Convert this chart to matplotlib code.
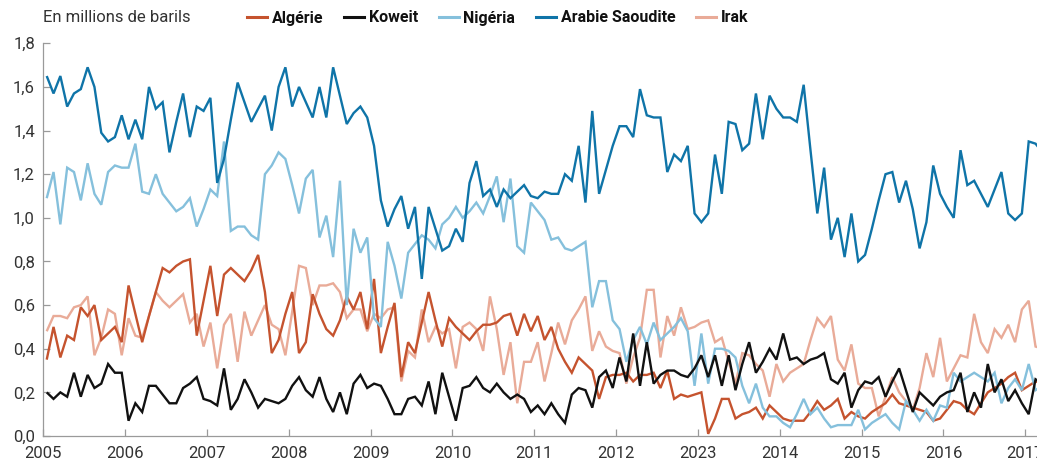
import matplotlib
matplotlib.use("Agg")
import matplotlib.pyplot as plt
import numpy as np
from matplotlib.ticker import FuncFormatter
from matplotlib.lines import Line2D

# ---------------- data (monthly, from Jan 2005) ----------------
series_names = ["Algérie", "Koweit", "Nigéria", "Arabie Saoudite", "Irak"]

arabie_saoudite = [
    1.65, 1.57, 1.65, 1.51, 1.57, 1.59, 1.69, 1.60, 1.39, 1.35, 1.37, 1.47,
    1.36, 1.45, 1.36, 1.60, 1.50, 1.53, 1.30, 1.44, 1.57, 1.37, 1.51, 1.49,
    1.55, 1.16, 1.27, 1.45, 1.62, 1.53, 1.44, 1.50, 1.56, 1.40, 1.60, 1.69,
    1.51, 1.60, 1.53, 1.46, 1.60, 1.46, 1.69, 1.56, 1.43, 1.48, 1.51, 1.46,
    1.33, 1.08, 0.96, 1.04, 1.10, 0.95, 1.05, 0.72, 1.05, 0.95, 0.85, 0.87,
    0.95, 0.89, 1.16, 1.26, 1.10, 1.13, 1.05, 1.13, 1.09, 1.12, 1.15, 1.10,
    1.09, 1.12, 1.11, 1.11, 1.20, 1.17, 1.33, 1.07, 1.49, 1.11, 1.22, 1.33,
    1.42, 1.42, 1.37, 1.59, 1.47, 1.46, 1.46, 1.21, 1.29, 1.26, 1.33, 1.02,
    0.98, 1.02, 1.29, 1.11, 1.44, 1.43, 1.31, 1.34, 1.57, 1.36, 1.56, 1.50,
    1.46, 1.46, 1.44, 1.61, 1.31, 1.02, 1.23, 0.90, 1.00, 0.82, 1.02, 0.80,
    0.83, 0.95, 1.08, 1.20, 1.21, 1.07, 1.17, 1.04, 0.86, 0.98, 1.24, 1.11,
    1.05, 1.00, 1.31, 1.15, 1.17, 1.11, 1.05, 1.13, 1.21, 1.02, 0.99, 1.02,
    1.35, 1.34, 1.30,
]

nigeria = [
    1.09, 1.21, 0.97, 1.23, 1.21, 1.08, 1.25, 1.11, 1.06, 1.21, 1.24, 1.23,
    1.23, 1.34, 1.12, 1.11, 1.20, 1.11, 1.07, 1.03, 1.05, 1.09, 0.96, 1.04,
    1.13, 1.10, 1.35, 0.94, 0.96, 0.96, 0.92, 0.90, 1.20, 1.24, 1.30, 1.27,
    1.15, 1.02, 1.18, 1.22, 0.91, 1.01, 0.82, 1.17, 0.60, 0.95, 0.84, 0.91,
    0.54, 0.50, 0.89, 0.78, 0.63, 0.84, 0.88, 0.92, 0.90, 0.86, 0.97, 1.00,
    1.05, 1.00, 1.03, 1.07, 1.02, 1.10, 1.19, 0.98, 1.18, 0.87, 0.84, 1.07,
    1.03, 0.99, 0.90, 0.91, 0.86, 0.85, 0.87, 0.89, 0.59, 0.71, 0.71, 0.53,
    0.49, 0.34, 0.44, 0.50, 0.42, 0.52, 0.44, 0.47, 0.50, 0.54, 0.48, 0.23,
    0.47, 0.24, 0.40, 0.40, 0.39, 0.36, 0.23, 0.15, 0.24, 0.13, 0.09, 0.09,
    0.06, 0.04, 0.10, 0.17, 0.10, 0.13, 0.08, 0.04, 0.05, 0.05, 0.05, 0.12,
    0.03, 0.06, 0.08, 0.10, 0.06, 0.03, 0.16, 0.12, 0.07, 0.12, 0.07, 0.14,
    0.13, 0.29, 0.25, 0.27, 0.29, 0.27, 0.25, 0.29, 0.15, 0.22, 0.26, 0.21,
    0.33, 0.21, 0.23,
]

algerie = [
    0.35, 0.50, 0.36, 0.46, 0.44, 0.59, 0.55, 0.60, 0.44, 0.47, 0.50, 0.43,
    0.69, 0.56, 0.43, 0.55, 0.66, 0.77, 0.75, 0.78, 0.80, 0.81, 0.46, 0.62,
    0.78, 0.55, 0.74, 0.77, 0.74, 0.71, 0.76, 0.83, 0.66, 0.38, 0.44, 0.56,
    0.66, 0.38, 0.43, 0.65, 0.56, 0.49, 0.46, 0.53, 0.64, 0.58, 0.66, 0.49,
    0.72, 0.38, 0.50, 0.61, 0.27, 0.43, 0.38, 0.52, 0.66, 0.53, 0.41, 0.54,
    0.50, 0.47, 0.44, 0.48, 0.51, 0.51, 0.52, 0.55, 0.56, 0.46, 0.56, 0.48,
    0.55, 0.44, 0.50, 0.40, 0.34, 0.29, 0.36, 0.33, 0.30, 0.17, 0.27, 0.28,
    0.28, 0.29, 0.25, 0.28, 0.28, 0.29, 0.22, 0.30, 0.17, 0.19, 0.18, 0.19,
    0.20, 0.01, 0.08, 0.17, 0.17, 0.08, 0.10, 0.11, 0.13, 0.08, 0.14, 0.11,
    0.08, 0.07, 0.07, 0.07, 0.11, 0.16, 0.12, 0.14, 0.17, 0.08, 0.11, 0.09,
    0.08, 0.11, 0.13, 0.15, 0.19, 0.15, 0.14, 0.13, 0.12, 0.11, 0.07, 0.08,
    0.12, 0.16, 0.15, 0.12, 0.10, 0.15, 0.20, 0.22, 0.24, 0.27, 0.29, 0.21,
    0.23, 0.25, 0.24,
]

koweit = [
    0.20, 0.17, 0.20, 0.18, 0.29, 0.18, 0.28, 0.22, 0.24, 0.33, 0.29, 0.29,
    0.07, 0.15, 0.11, 0.23, 0.23, 0.19, 0.15, 0.15, 0.22, 0.24, 0.27, 0.17,
    0.16, 0.14, 0.31, 0.12, 0.17, 0.26, 0.20, 0.13, 0.17, 0.16, 0.15, 0.17,
    0.23, 0.27, 0.21, 0.18, 0.27, 0.17, 0.11, 0.20, 0.10, 0.24, 0.28, 0.22,
    0.24, 0.23, 0.17, 0.10, 0.10, 0.17, 0.18, 0.14, 0.25, 0.10, 0.29, 0.18,
    0.07, 0.22, 0.23, 0.27, 0.22, 0.20, 0.24, 0.20, 0.17, 0.19, 0.17, 0.11,
    0.14, 0.10, 0.15, 0.10, 0.06, 0.19, 0.22, 0.21, 0.13, 0.27, 0.30, 0.22,
    0.36, 0.25, 0.47, 0.23, 0.43, 0.24, 0.28, 0.30, 0.30, 0.28, 0.27, 0.31,
    0.37, 0.27, 0.37, 0.23, 0.37, 0.21, 0.33, 0.43, 0.29, 0.34, 0.40, 0.35,
    0.47, 0.35, 0.36, 0.33, 0.35, 0.36, 0.38, 0.26, 0.24, 0.29, 0.13, 0.21,
    0.25, 0.24, 0.27, 0.18, 0.25, 0.31, 0.21, 0.11, 0.20, 0.17, 0.14, 0.18,
    0.20, 0.21, 0.29, 0.11, 0.20, 0.13, 0.33, 0.20, 0.26, 0.16, 0.21, 0.15,
    0.10, 0.26, 0.24,
]

irak = [
    0.48, 0.55, 0.55, 0.54, 0.59, 0.60, 0.64, 0.37, 0.45, 0.58, 0.56, 0.37,
    0.54, 0.46, 0.45, 0.55, 0.66, 0.62, 0.59, 0.62, 0.65, 0.52, 0.56, 0.41,
    0.52, 0.31, 0.51, 0.56, 0.34, 0.57, 0.46, 0.53, 0.60, 0.51, 0.49, 0.37,
    0.57, 0.78, 0.77, 0.60, 0.69, 0.69, 0.70, 0.66, 0.54, 0.58, 0.58, 0.48,
    0.56, 0.54, 0.58, 0.59, 0.25, 0.39, 0.36, 0.58, 0.43, 0.50, 0.47, 0.49,
    0.31, 0.50, 0.52, 0.49, 0.39, 0.64, 0.49, 0.28, 0.43, 0.15, 0.34, 0.34,
    0.43, 0.25, 0.38, 0.52, 0.42, 0.53, 0.58, 0.64, 0.39, 0.48, 0.41, 0.39,
    0.38, 0.24, 0.36, 0.45, 0.67, 0.67, 0.36, 0.55, 0.46, 0.59, 0.49, 0.50,
    0.52, 0.53, 0.43, 0.45, 0.34, 0.24, 0.38, 0.37, 0.33, 0.30, 0.18, 0.33,
    0.25, 0.29, 0.31, 0.33, 0.44, 0.54, 0.50, 0.55, 0.35, 0.30, 0.42, 0.24,
    0.22, 0.22, 0.09, 0.18, 0.27, 0.20, 0.16, 0.12, 0.22, 0.38, 0.27, 0.45,
    0.25, 0.31, 0.37, 0.36, 0.56, 0.43, 0.38, 0.49, 0.45, 0.51, 0.43, 0.58,
    0.62, 0.41, 0.40,
]

start_year = 2005
x_tick_years = list(range(2005, 2018))
x_tick_labels = ["2005", "2006", "2007", "2008", "2009", "2010", "2011",
                 "2012", "2023", "2014", "2015", "2016", "2017"]
y_ticks = [0.0, 0.2, 0.4, 0.6, 0.8, 1.0, 1.2, 1.4, 1.6, 1.8]

colors = {
    "Algérie": "#c5532e",
    "Koweit": "#111111",
    "Nigéria": "#85c0dc",
    "Arabie Saoudite": "#0f74a8",
    "Irak": "#e9ab98",
}

# ---------------- figure ----------------
plt.rcParams["font.family"] = ["Roboto", "DejaVu Sans"]

W, H = 1037, 463
fig = plt.figure(figsize=(W / 100, H / 100), dpi=100)
left_px, bottom_px, top_px = 43.3, 436.0, 43.3
ax = fig.add_axes([left_px / W, (H - bottom_px) / H, 1 - left_px / W,
                   (bottom_px - top_px) / H])

data = {
    "Algérie": algerie,
    "Koweit": koweit,
    "Nigéria": nigeria,
    "Arabie Saoudite": arabie_saoudite,
    "Irak": irak,
}
draw_order = ["Irak", "Algérie", "Nigéria", "Koweit", "Arabie Saoudite"]
lw = 1.7
for name in draw_order:
    vals = data[name]
    ax.plot(start_year + (np.arange(len(vals)) + 0.5) / 12.0, vals,
            color=colors[name], lw=lw, solid_joinstyle="miter",
            solid_capstyle="butt")

px_per_year = (1025.3 - 43.3) / 12.0
ax.set_xlim(2005, 2005 + (W - left_px) / px_per_year)
ax.set_ylim(0, 1.8)

for s in ["top", "right"]:
    ax.spines[s].set_visible(False)
for s in ["left", "bottom"]:
    ax.spines[s].set_color("#9a9a9a")
    ax.spines[s].set_linewidth(0.9)

ax.set_xticks(x_tick_years)
ax.set_xticklabels(x_tick_labels)
ax.set_yticks(y_ticks)
ax.yaxis.set_major_formatter(FuncFormatter(lambda v, p: f"{v:.1f}".replace(".", ",")))
ax.tick_params(axis="both", direction="in", length=5, width=0.9,
               color="#9a9a9a", labelsize=12, labelcolor="#333333")
ax.tick_params(axis="y", pad=6)
ax.tick_params(axis="x", pad=7)

# unit label
fig.text(43 / W, 1 - 18 / H, "En millions de barils", fontsize=12,
         color="#333333", va="center", ha="left")

handles = [Line2D([0], [0], color=colors[n], lw=2.2) for n in series_names]
leg = fig.legend(handles, series_names, loc="center left",
                 bbox_to_anchor=(247 / W, 1 - 18 / H), ncol=5, frameon=False,
                 borderpad=0, borderaxespad=0, handlelength=1.25,
                 handletextpad=0.3, columnspacing=1.3,
                 prop={"size": 11.5, "weight": "bold"})
for t in leg.get_texts():
    t.set_color("#111111")

fig.savefig("out.png", dpi=100)
